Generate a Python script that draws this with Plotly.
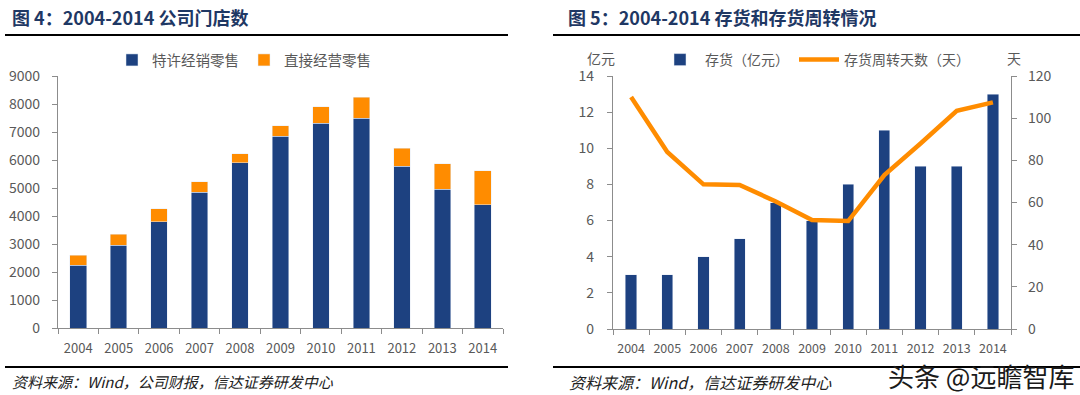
import plotly.graph_objects as go

# ---------------- data ----------------
years = ["2004", "2005", "2006", "2007", "2008", "2009", "2010", "2011", "2012", "2013", "2014"]
franchise_stores = [2250, 2950, 3800, 4840, 5910, 6840, 7310, 7490, 5770, 4960, 4410]
direct_stores = [350, 390, 460, 380, 310, 380, 600, 760, 650, 910, 1200]
inventory = [3, 3, 4, 5, 7, 6, 8, 11, 9, 9, 13]
turnover_days = [110, 84, 68.6, 68.3, 60.5, 51.7, 51.2, 73, 88, 103.5, 107.5]

NAVY = "#1D4180"
ORANGE = "#FF8C00"
GRAY = "#595959"
AXIS = "#8C8C8C"
TITLE = "#1F3864"
FONT = "Noto Sans CJK SC, Liberation Sans, Arial"

W, H = 1080, 395
def px(x):
    return x / W
def py(y):
    return 1 - y / H

fig = go.Figure()

# left chart: stacked bars
fig.add_trace(go.Bar(x=years, y=franchise_stores, name="特许经销零售", marker_color=NAVY,
                     width=0.41, xaxis="x", yaxis="y", legend="legend"))
fig.add_trace(go.Bar(x=years, y=direct_stores, name="直接经营零售", marker_color=ORANGE,
                     width=0.41, xaxis="x", yaxis="y", legend="legend"))

# right chart: inventory bars + turnover line
fig.add_trace(go.Bar(x=years, y=inventory, name="存货（亿元）", marker_color=NAVY,
                     width=0.31, xaxis="x2", yaxis="y2", legend="legend2"))
fig.add_trace(go.Scatter(x=years, y=turnover_days, name="存货周转天数（天）", mode="lines",
                         line=dict(color=ORANGE, width=4.5), xaxis="x2", yaxis="y3",
                         legend="legend2"))

def axis_style(size=13, standoff=6):
    return dict(showline=True, linecolor=AXIS, linewidth=1.3, ticks="outside",
                tickcolor=AXIS, ticklen=5, showgrid=False, zeroline=False,
                automargin=False, ticklabelstandoff=standoff,
                tickfont=dict(family=FONT, size=size, color=GRAY))

fig.update_layout(
    width=W, height=H,
    margin=dict(l=0, r=0, t=0, b=0, autoexpand=False),
    paper_bgcolor="white", plot_bgcolor="white",
    barmode="stack",
    font=dict(family=FONT, color=GRAY),
    xaxis=dict(domain=[px(58), px(503)], type="category", tickson="boundaries",
               anchor="y", tickangle=0, **axis_style(13, 8)),
    yaxis=dict(domain=[py(328), py(76)], range=[0, 9000], dtick=1000, anchor="x",
               **axis_style(14, 9)),
    xaxis2=dict(domain=[px(613), px(1011)], type="category", tickson="boundaries",
                anchor="y2", tickangle=0, **axis_style(12.5, 8)),
    yaxis2=dict(domain=[py(329), py(76)], range=[0, 14], dtick=2, anchor="x2",
                **axis_style(14, 10)),
    yaxis3=dict(range=[0, 120], dtick=20, overlaying="y2", side="right", anchor="x2",
                **axis_style(14, 8)),
    legend=dict(orientation="h", x=px(244), y=py(60), xanchor="center", yanchor="middle",
                font=dict(family=FONT, size=14.5, color=GRAY), itemwidth=30,
                bgcolor="rgba(0,0,0,0)", traceorder="normal"),
    legend2=dict(orientation="h", x=px(815), y=py(60), xanchor="center", yanchor="middle",
                 font=dict(family=FONT, size=14, color=GRAY), itemwidth=40,
                 bgcolor="rgba(0,0,0,0)", traceorder="normal"),
    showlegend=True,
)

annotations = [
    dict(text="<b>图 4：2004-2014 公司门店数</b>", x=px(10), y=py(17), xanchor="left",
         yanchor="middle", font=dict(family=FONT, size=18, color=TITLE)),
    dict(text="<b>图 5：2004-2014 存货和存货周转情况</b>", x=px(566), y=py(17), xanchor="left",
         yanchor="middle", font=dict(family=FONT, size=18, color=TITLE)),
    dict(text="亿元", x=px(601), y=py(58), xanchor="center", yanchor="middle",
         font=dict(family=FONT, size=14, color=GRAY)),
    dict(text="天", x=px(1014), y=py(58), xanchor="center", yanchor="middle",
         font=dict(family=FONT, size=14, color=GRAY)),
    dict(text="<i>资料来源：Wind，公司财报，信达证券研发中心</i>", x=px(10), y=py(381),
         xanchor="left", yanchor="middle", font=dict(family=FONT, size=15, color="#222222")),
    dict(text="<i>资料来源：Wind，信达证券研发中心</i>", x=px(567), y=py(382),
         xanchor="left", yanchor="middle", font=dict(family=FONT, size=16, color="#222222")),
    dict(text="头条 @远瞻智库", x=px(1076), y=py(375), xanchor="right", yanchor="middle",
         font=dict(family=FONT, size=26, color="#1a1a1a")),
]
for a in annotations:
    a.update(xref="paper", yref="paper", showarrow=False)
fig.update_layout(annotations=annotations)

shapes = [
    dict(type="line", x0=px(5), x1=px(508), y0=py(35), y1=py(35), line=dict(color="black", width=2)),
    dict(type="line", x0=px(553), x1=1, y0=py(35), y1=py(35), line=dict(color="black", width=2)),
    dict(type="line", x0=px(5), x1=px(508), y0=py(367), y1=py(367), line=dict(color="black", width=2)),
    dict(type="line", x0=px(553), x1=1, y0=py(367), y1=py(367), line=dict(color="black", width=2)),
]
for s in shapes:
    s.update(xref="paper", yref="paper")
fig.update_layout(shapes=shapes)

fig.write_html("out.html", config={"displayModeBar": False},
               post_script="document.body.style.margin='0';document.body.style.padding='0';")
